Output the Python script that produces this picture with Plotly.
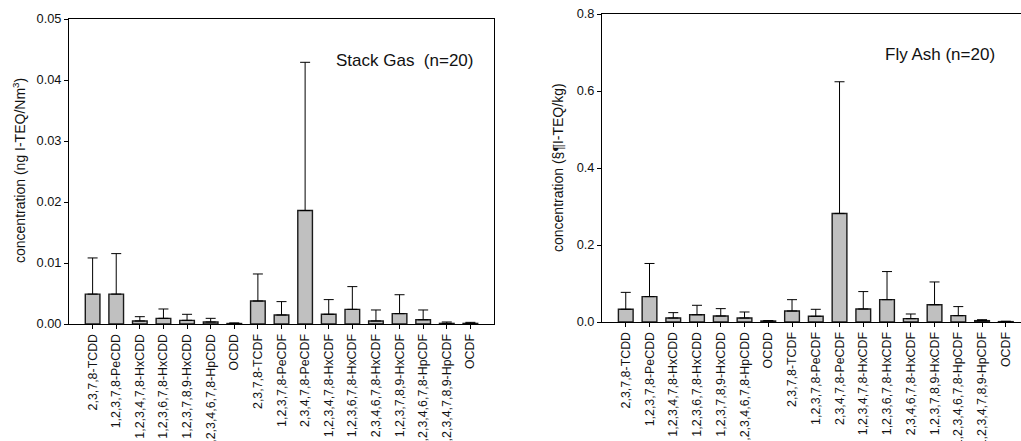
import plotly.graph_objects as go

congeners = ["2,3,7,8-TCDD", "1,2,3,7,8-PeCDD", "1,2,3,4,7,8-HxCDD", "1,2,3,6,7,8-HxCDD",
             "1,2,3,7,8,9-HxCDD", "1,2,3,4,6,7,8-HpCDD", "OCDD", "2,3,7,8-TCDF",
             "1,2,3,7,8-PeCDF", "2,3,4,7,8-PeCDF", "1,2,3,4,7,8-HxCDF", "1,2,3,6,7,8-HxCDF",
             "2,3,4,6,7,8-HxCDF", "1,2,3,7,8,9-HxCDF", "1,2,3,4,6,7,8-HpCDF",
             "1,2,3,4,7,8,9-HpCDF", "OCDF"]

gas_mean = [0.0049, 0.0049, 0.0005, 0.00093, 0.0006, 0.00033, 0.00008, 0.00377,
            0.00148, 0.0186, 0.00159, 0.0024, 0.0005, 0.0017, 0.0007, 0.0001, 0.0001]
gas_upper = [0.01083, 0.01154, 0.0012, 0.00246, 0.00159, 0.00093, 0.00018, 0.0082,
             0.00367, 0.0429, 0.0040, 0.00613, 0.0023, 0.0048, 0.0023, 0.00033, 0.00027]

ash_mean = [0.033, 0.066, 0.0104, 0.019, 0.0156, 0.0104, 0.0026, 0.0286,
            0.0148, 0.282, 0.0338, 0.058, 0.0087, 0.045, 0.0165, 0.0035, 0.001]
ash_upper = [0.077, 0.152, 0.0243, 0.0434, 0.0347, 0.026, 0.0035, 0.058,
             0.033, 0.624, 0.079, 0.131, 0.0208, 0.104, 0.040, 0.006, 0.002]

gas_y_ticks = [0.0, 0.01, 0.02, 0.03, 0.04, 0.05]
ash_y_ticks = [0.0, 0.2, 0.4, 0.6, 0.8]

W, H = 1021, 441
FONT = "Liberation Sans, Arial, sans-serif"
BAR_FILL = "#c0c0c0"
BAR_LINE = "#1a1a1a"

fig = go.Figure()

def add_series(mean, upper, xa, ya):
    err = [u - m for u, m in zip(upper, mean)]
    fig.add_trace(go.Bar(
        x=congeners, y=mean, xaxis=xa, yaxis=ya, width=0.62,
        marker=dict(color=BAR_FILL, line=dict(color=BAR_LINE, width=1.4)),
        error_y=dict(type="data", symmetric=False, array=err,
                     arrayminus=[0] * len(err), color="#000000", thickness=1, width=5),
        showlegend=False, hoverinfo="x+y"))

add_series(gas_mean, gas_upper, "x", "y")
add_series(ash_mean, ash_upper, "x2", "y2")

def px_x(p):
    return p / W

def px_y(p):
    return 1 - p / H

axis_common = dict(showline=True, linecolor="#000000", linewidth=1, ticks="outside",
                   ticklen=4, tickcolor="#000000", showgrid=False, zeroline=False,
                   automargin=False)
xtick_font = dict(family=FONT, size=12.4, color="#111111")
ytick_font = dict(family=FONT, size=12.8, color="#111111")

fig.update_layout(
    template="none",
    width=W, height=H, margin=dict(l=0, r=0, t=0, b=0, autoexpand=False),
    paper_bgcolor="white", plot_bgcolor="white", bargap=0.38,
    font=dict(family=FONT, color="#111111"),
    xaxis=dict(axis_common, domain=[px_x(69), px_x(494)], anchor="y",
               type="category", range=[-1, 17], tickangle=-90, mirror=True,
               tickfont=xtick_font),
    yaxis=dict(axis_common, domain=[px_y(324), px_y(19)], anchor="x",
               range=[0, 0.05], tickvals=gas_y_ticks, tickformat=".2f", mirror=True,
               tickfont=ytick_font),
    xaxis2=dict(axis_common, domain=[px_x(602), 1.0], anchor="y2",
                type="category", range=[-1, 16.64], tickangle=-90, mirror=True,
                tickfont=xtick_font),
    yaxis2=dict(axis_common, domain=[px_y(322), px_y(14)], anchor="x2",
                range=[0, 0.8], tickvals=ash_y_ticks, tickformat=".1f", mirror=False,
                tickfont=ytick_font),
)

def label(x, y, text, size, angle=0):
    fig.add_annotation(x=px_x(x), y=px_y(y), xref="paper", yref="paper",
                       xanchor="center", yanchor="middle", text=text,
                       textangle=angle, showarrow=False,
                       font=dict(family=FONT, size=size, color="#111111"))

label(404.5, 60, "Stack Gas\u00a0 (n=20)", 17)
label(940, 54, "Fly Ash (n=20)", 17)
label(19, 171, "concentration (ng I-TEQ/Nm<sup>3</sup>)", 14, -90)
label(558, 168, "concentration (§¶I-TEQ/kg)", 14, -90)

fig.write_html("out.html")
